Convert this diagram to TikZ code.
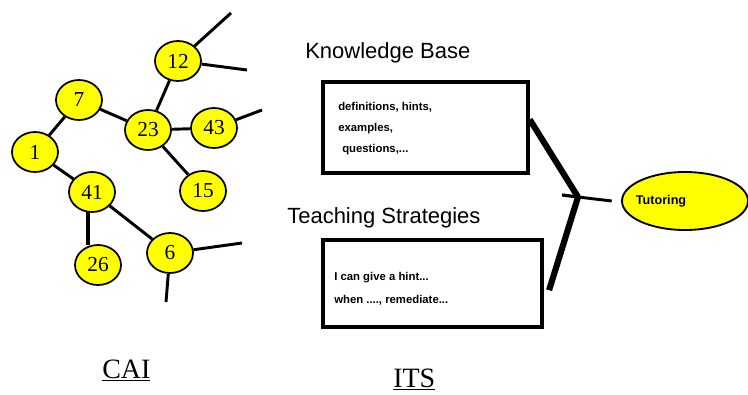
\documentclass[tikz,border=0pt]{standalone}
\usepackage{fontspec}
\setmainfont{Liberation Serif}
\newfontfamily\arialf{Liberation Sans}
\usetikzlibrary{shapes.geometric}
\definecolor{nodeyellow}{RGB}{255,255,0}
\tikzset{
  tnode/.style={ellipse,draw=black,line width=1.3pt,fill=nodeyellow,minimum width=34.5pt,minimum height=30pt,inner sep=0pt,font=\fontsize{16}{18}\selectfont},
  tedge/.style={line width=2.2pt},
  kbox/.style={rectangle,draw=black,line width=2.6pt,inner sep=0pt},
  boxtxt/.style={anchor=base west,inner sep=0pt,font=\arialf\bfseries\fontsize{8.5}{10}\selectfont},
  heading/.style={anchor=base west,inner sep=0pt,font=\arialf\fontsize{16.5}{19}\selectfont},
  caption/.style={anchor=base west,inner sep=0pt,font=\fontsize{21}{24}\selectfont},
  conv/.style={line width=4.6pt},
}
\begin{document}
\begin{tikzpicture}[x=0.75pt,y=-0.75pt]
\useasboundingbox (0,0) rectangle (748,394);
% tree nodes
\node[tnode] (n12) at (178,61) {12};
\node[tnode] (n7) at (79,100) {7};
\node[tnode] (n23) at (148,130) {23};
\node[tnode] (n43) at (214,128) {43};
\node[tnode] (n1) at (35,152) {1};
\node[tnode] (n15) at (203,191) {15};
\node[tnode] (n41) at (92,192) {41};
\node[tnode] (n26) at (98,265) {26};
\node[tnode] (n6) at (170,253) {6};
% free ends
\coordinate (e12a) at (231,13);
\coordinate (e12b) at (247,70);
\coordinate (e43) at (262,110);
\coordinate (e6a) at (242,243);
\coordinate (e6b) at (166,302);
% tree edges
\draw[tedge] (n7) -- (n1);
\draw[tedge] (n7) -- (n23);
\draw[tedge] (n23) -- (n12);
\draw[tedge] (n23) -- (n43);
\draw[tedge] (n23) -- (n15);
\draw[tedge] (n1) -- (n41);
\draw[tedge,line width=2.8pt] ([xshift=-3pt,yshift=1pt]n41.south) -- ([xshift=-7.5pt,yshift=-1pt]n26.north);
\draw[tedge] (n41) -- (n6);
\draw[tedge] (n12) -- (e12a);
\draw[tedge] (n12) -- (e12b);
\draw[tedge] (n43) -- (e43);
\draw[tedge] (n6) -- (e6a);
\draw[tedge] (n6) -- (e6b);
% ITS part
\node[heading] (kbh) at (305,58) {Knowledge Base};
\node[kbox,minimum width=153.75pt,minimum height=68.25pt] (kb) at (425.5,127.5) {};
\node[boxtxt] (kb1) at (338,110) {definitions, hints,};
\node[boxtxt] (kb2) at (338,131) {examples,};
\node[boxtxt] (kb3) at (342,152) {questions,...};
\node[heading] (tsh) at (287,223) {Teaching Strategies};
\node[kbox,minimum width=164.25pt,minimum height=65.25pt] (ts) at (432.5,283.5) {};
\node[boxtxt] (ts1) at (334,280) {I can give a hint...};
\node[boxtxt] (ts2) at (334,303) {when ...., remediate...};
\node[ellipse,draw=black,line width=1.4pt,fill=nodeyellow,minimum width=94.5pt,minimum height=43.5pt,inner sep=0pt] (tut) at (685,201) {};
\node[inner sep=0pt,font=\arialf\bfseries\fontsize{9.5}{11}\selectfont] (tutt) at (661,201) {Tutoring};
\coordinate (J) at (578,197);
\coordinate (stub) at (562,195);
\draw[conv] ([yshift=6pt]kb.east) -- (J);
\draw[conv] ([xshift=4pt,yshift=-5pt]ts.east) -- (J);
\draw[line width=2.4pt] (stub) -- (J);
\draw[line width=2.2pt] (J) -- ([xshift=-7pt]tut.west);
% captions
\node[caption] (cai) at (102,378) {\underline{CAI}};
\node[caption] (its) at (393,387) {\underline{ITS}};
\end{tikzpicture}
\end{document}
